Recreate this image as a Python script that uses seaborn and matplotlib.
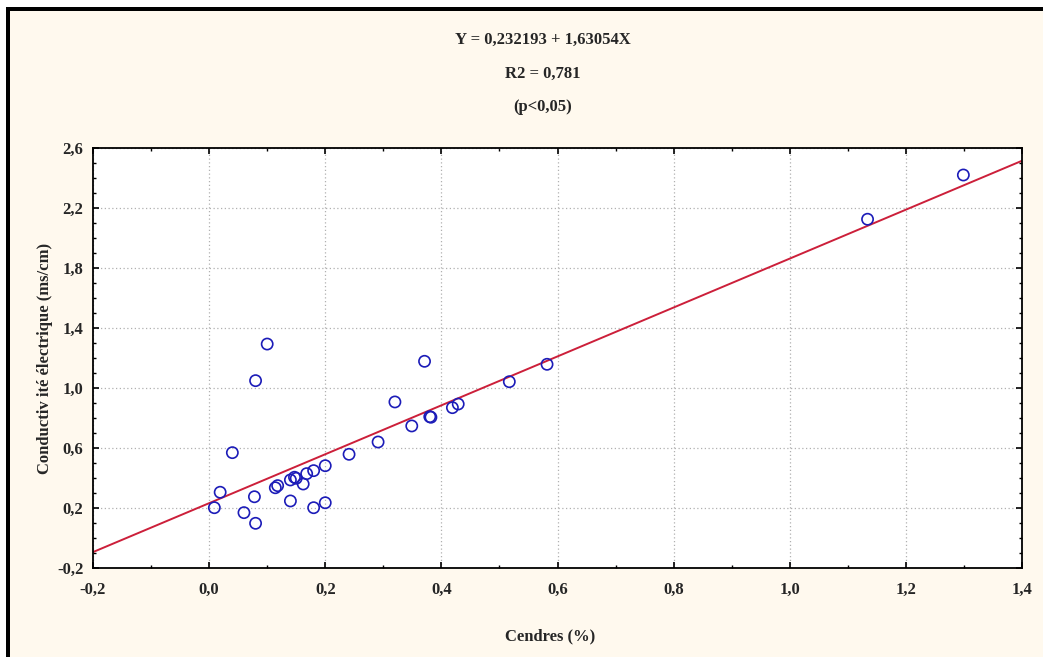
import numpy as np
import pandas as pd
import matplotlib
matplotlib.use("Agg")
import matplotlib.pyplot as plt
from matplotlib.ticker import MultipleLocator, FuncFormatter
import seaborn as sns

# values
cendres = [0.009, 0.019, 0.040, 0.060, 0.078, 0.080, 0.080, 0.100, 0.114, 0.118,
           0.140, 0.140, 0.147, 0.150, 0.162, 0.168, 0.180, 0.180, 0.200, 0.200,
           0.241, 0.291, 0.320, 0.349, 0.371, 0.380, 0.382, 0.419, 0.429, 0.517,
           0.582, 1.134, 1.299]
conductivite = [0.202, 0.305, 0.569, 0.169, 0.275, 0.098, 1.049, 1.293, 0.335, 0.349,
                0.247, 0.387, 0.405, 0.398, 0.360, 0.429, 0.449, 0.202, 0.482, 0.235,
                0.558, 0.640, 0.907, 0.747, 1.178, 0.809, 0.805, 0.869, 0.893, 1.042,
                1.158, 2.125, 2.420]
intercept = 0.232193
slope = 1.63054
r2 = 0.781

x_ticks = [-0.2, 0.0, 0.2, 0.4, 0.6, 0.8, 1.0, 1.2, 1.4]
y_ticks = [-0.2, 0.2, 0.6, 1.0, 1.4, 1.8, 2.2, 2.6]

data = pd.DataFrame({"cendres": cendres, "conductivite": conductivite})

sns.set_style("white")
plt.rcParams['font.family'] = ['Liberation Serif', 'DejaVu Serif']
plt.rcParams['font.weight'] = 'bold'

fig = plt.figure(figsize=(10.43, 6.57), dpi=100)
fig.patch.set_facecolor('#fff9ee')
ax = fig.add_axes([93 / 1043, 1 - 568 / 657, (1022 - 93) / 1043, (568 - 148) / 657])
ax.set_facecolor('white')

# regression line from the printed equation
ax.axline((0, intercept), slope=slope, color='#cc1f3a', lw=1.4, zorder=2)

sns.scatterplot(data=data, x="cendres", y="conductivite", ax=ax, s=65,
                marker='o', facecolor='none', edgecolor='#1c1cb8', linewidth=1.2,
                zorder=3)

ax.set_xlim(x_ticks[0], x_ticks[-1])
ax.set_ylim(y_ticks[0], y_ticks[-1])
ax.set_xticks(x_ticks)
ax.set_yticks(y_ticks)
ax.xaxis.set_minor_locator(MultipleLocator(0.1))
ax.yaxis.set_minor_locator(MultipleLocator(0.1))
fmt = FuncFormatter(lambda v, p: f"{v:.1f}".replace('.', ','))
ax.xaxis.set_major_formatter(fmt)
ax.yaxis.set_major_formatter(fmt)
ax.tick_params(which='both', direction='in', top=True, right=True, left=True, bottom=True,
               color='black', labelsize=12)
ax.tick_params(which='major', length=4, width=1.2)
ax.tick_params(which='minor', length=2.5, width=1)
ax.tick_params(axis='x', pad=10)
ax.tick_params(axis='y', pad=7)
ax.grid(True, which='major', linestyle=(0, (1, 2)), color='#b0b0b0', lw=0.9)
for sp in ax.spines.values():
    sp.set_color('black')
    sp.set_linewidth(1.3)

ax.set_xlabel("")
ax.set_ylabel("")
fig.text(550 / 1043, 1 - 636 / 657, "Cendres (%)", ha='center', va='center',
         fontsize=12, fontweight='bold')
fig.text(45 / 1043, 1 - 358 / 657, "Conductiv ité électrique (ms/cm)", ha='center',
         va='center', rotation=90, fontsize=12, fontweight='bold')

fig.text(543 / 1043, 1 - 40 / 657,
         f"Y = {intercept:.6f} + {slope:.5f}X".replace('.', ','),
         ha='center', va='center', fontsize=12, fontweight='bold')
fig.text(543 / 1043, 1 - 74 / 657, f"R2 = {r2:.3f}".replace('.', ','),
         ha='center', va='center', fontsize=12, fontweight='bold')
fig.text(543 / 1043, 1 - 107 / 657, "(p<0,05)", ha='center', va='center',
         fontsize=12, fontweight='bold')

# screenshot frame: white margin and thick black edge on top and left
fig.patches.append(plt.Rectangle((0, 1 - 7 / 657), 1, 7 / 657, transform=fig.transFigure,
                                 facecolor='white', edgecolor='none', zorder=0))
fig.patches.append(plt.Rectangle((0, 0), 6 / 1043, 1, transform=fig.transFigure,
                                 facecolor='white', edgecolor='none', zorder=0))
fig.patches.append(plt.Rectangle((6 / 1043, 1 - 11 / 657), 1, 4 / 657, transform=fig.transFigure,
                                 facecolor='black', edgecolor='none', zorder=1))
fig.patches.append(plt.Rectangle((6 / 1043, 0), 4 / 1043, 1 - 7 / 657, transform=fig.transFigure,
                                 facecolor='black', edgecolor='none', zorder=1))

fig.savefig("out.png", dpi=100, facecolor=fig.get_facecolor())
